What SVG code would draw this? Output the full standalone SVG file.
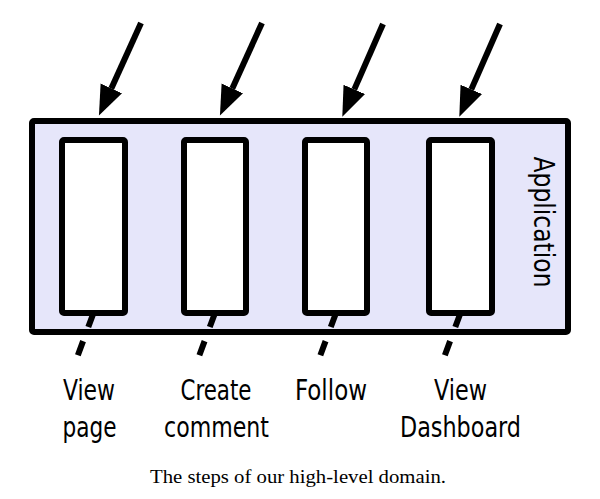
<svg xmlns="http://www.w3.org/2000/svg" width="600" height="499" viewBox="0 0 600 499">
<style>
.app{fill:#e6e6fa;stroke:#000;stroke-width:6}
.step{fill:#fff;stroke:#000;stroke-width:6}
.arrow{stroke:#000;stroke-width:6;fill:none}
.dash{stroke:#000;stroke-width:6;stroke-dasharray:15 15;fill:none}
.lbl{font-family:"Liberation Sans Narrow","DejaVu Sans Condensed","Liberation Sans",sans-serif;font-size:29px;fill:#000;text-anchor:middle}
.cap{font-family:"Liberation Serif","DejaVu Serif",serif;font-size:18px;fill:#000;text-anchor:middle}
</style>
<defs>
<marker id="head" markerUnits="userSpaceOnUse" markerWidth="32" markerHeight="26" refX="0" refY="11" orient="auto" viewBox="0 0 30 22">
<path d="M0,0 L28,11 L0,22 Z" fill="#000"/>
</marker>
</defs>
<rect fill="#fff" width="600" height="499"/>
<g id="application">
<rect class="app" x="32" y="121" width="536" height="211" rx="2"/>
<text class="lbl" transform="translate(534,222) rotate(90)" font-size="28" textLength="131" lengthAdjust="spacingAndGlyphs">Application</text>
</g>
<g id="view-page">
<rect class="step" x="62" y="140" width="63" height="173" rx="2"/>
<text class="lbl" x="89" y="400" textLength="52" lengthAdjust="spacingAndGlyphs">View</text>
<text class="lbl" x="89.5" y="437" textLength="54" lengthAdjust="spacingAndGlyphs">page</text>
</g>
<g id="create-comment">
<rect class="step" x="184" y="140" width="62" height="173" rx="2"/>
<text class="lbl" x="216" y="400" textLength="71" lengthAdjust="spacingAndGlyphs">Create</text>
<text class="lbl" x="216.5" y="437" textLength="105" lengthAdjust="spacingAndGlyphs">comment</text>
</g>
<g id="follow">
<rect class="step" x="305" y="140" width="62" height="173" rx="2"/>
<text class="lbl" x="331" y="400" textLength="72" lengthAdjust="spacingAndGlyphs">Follow</text>
</g>
<g id="view-dashboard">
<rect class="step" x="429" y="140" width="63" height="173" rx="2"/>
<text class="lbl" x="460.5" y="400" textLength="53" lengthAdjust="spacingAndGlyphs">View</text>
<text class="lbl" x="460.5" y="437" textLength="121" lengthAdjust="spacingAndGlyphs">Dashboard</text>
</g>
<g id="connectors">
<line class="arrow" x1="141" y1="23" x2="111.3" y2="88.4" marker-end="url(#head)"/>
<line class="arrow" x1="262" y1="23" x2="232.3" y2="88.4" marker-end="url(#head)"/>
<line class="arrow" x1="383" y1="24" x2="354.3" y2="89.4" marker-end="url(#head)"/>
<line class="arrow" x1="500" y1="24" x2="471.3" y2="89.4" marker-end="url(#head)"/>
<line class="dash" x1="93.5" y1="313" x2="77.2" y2="357"/>
<line class="dash" x1="215" y1="313" x2="198.7" y2="357"/>
<line class="dash" x1="336" y1="313" x2="319.7" y2="357"/>
<line class="dash" x1="460.5" y1="313" x2="444.2" y2="357"/>
</g>
<text class="cap" x="298" y="483" textLength="296" lengthAdjust="spacingAndGlyphs">The steps of our high-level domain.</text>
</svg>
